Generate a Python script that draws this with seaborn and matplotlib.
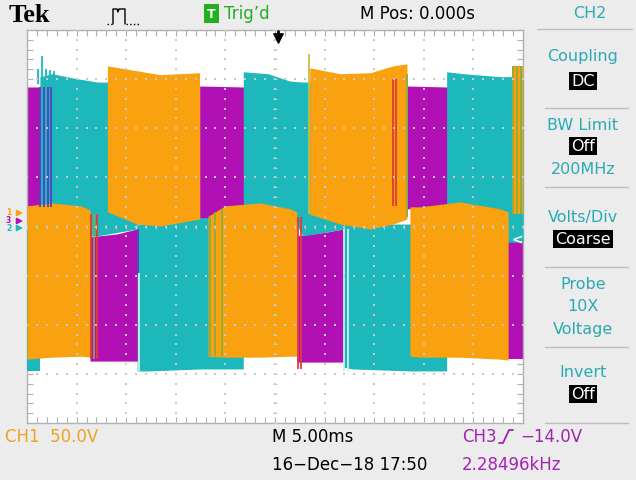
import matplotlib
matplotlib.use("Agg")
import numpy as np
import matplotlib.pyplot as plt
import seaborn as sns

# ============================================
# DATA  (time in ms, 5 ms/div, trigger at 0; level in divisions)
# ============================================

# CH3 - magenta
CH3_T = [
    [-25.0, -17.9],
    [-18.65, -15.9, -13.9, -7.6],
    [-7.6, -3.2, 2.8],
    [2.2, 5.0, 6.9, 13.3],
    [13.3, 17.3, 23.5],
    [23.5, 25.0],
]
CH3_TOP = [
    [2.84, 2.84],
    [-0.21, -0.15, -0.05, -0.05],
    [2.86, 2.84, 2.84],
    [-0.19, -0.12, -0.05, -0.05],
    [2.86, 2.84, 2.84],
    [-0.32, -0.32],
]
CH3_BOT = [
    [0.40, 0.36],
    [-2.74, -2.74, -2.74, -2.74],
    [0.15, 0.15, 0.15],
    [-2.76, -2.76, -2.76, -2.76],
    [0.36, 0.36, 0.36],
    [-2.70, -2.70],
]

# CH2 - cyan
CH2_T = [
    [-25.0, -23.7],
    [-23.7, -22.5, -20.0, -17.9, -15.9, -13.9],
    [-13.9, -12.6, -7.6, -3.2],
    [-3.2, -0.7, 1.5, 2.8, 5.0, 6.9],
    [6.9, 7.8, 13.6, 17.3],
    [17.3, 19.0, 22.7, 25.0],
]
CH2_TOP = [
    [-0.05, -0.05],
    [3.05, 3.11, 3.01, 2.94, 2.94, 2.94],
    [0.05, 0.05, 0.18, 0.18],
    [3.15, 3.11, 2.96, 2.94, 2.94, 2.94],
    [0.05, 0.05, 0.05, 0.05],
    [3.15, 3.11, 3.05, 3.05],
]
CH2_BOT = [
    [-2.94, -2.94],
    [-0.19, -0.19, -0.19, -0.19, -0.12, -0.05],
    [-2.94, -2.94, -2.90, -2.90],
    [0.30, 0.30, 0.30, -0.19, -0.12, -0.05],
    [-2.86, -2.90, -2.94, -2.94],
    [-0.32, -0.32, -0.32, -0.32],
]

# CH1 - orange
CH1_T = [
    [-25.0, -22.5, -19.6, -18.65],
    [-16.9, -13.9, -11.6, -7.6],
    [-6.75, -5.04, -1.5, 1.5, 2.2],
    [3.5, 6.55, 9.6, 11.9, 13.3],
    [13.6, 14.6, 18.65, 22.7, 23.5],
    [23.9, 25.0],
]
CH1_TOP = [
    [0.42, 0.48, 0.42, 0.34],
    [3.27, 3.17, 3.09, 3.13],
    [0.21, 0.42, 0.48, 0.36, 0.30],
    [3.23, 3.11, 3.13, 3.27, 3.31],
    [0.40, 0.40, 0.50, 0.36, 0.30],
    [3.27, 3.27],
]
CH1_BOT = [
    [-2.70, -2.66, -2.64, -2.66],
    [0.30, 0.05, 0.01, 0.15],
    [-2.64, -2.66, -2.66, -2.64, -2.64],
    [0.25, 0.05, -0.05, 0.05, 0.15],
    [-2.64, -2.66, -2.66, -2.70, -2.72],
    [0.25, 0.25],
]

# switching edges seen as thin lines
EDGE_T = [-23.9, -23.5, -23.1, -22.7, -22.3,
          -23.69, -23.29, -22.88, -22.58,
          -18.55, -18.25, -17.95,
          -13.8, -13.7,
          -6.6, -6.0, -5.3,
          2.3, 2.6, 3.43,
          6.95, 7.4,
          11.9, 12.2, 13.3,
          24.0, 24.4, 24.8]
EDGE_TOP = [3.21, 3.47, 3.21, 3.19, 3.17,
            2.84, 2.84, 2.84, 2.84,
            0.25, 0.25, 0.25,
            -0.05, -0.95,
            0.21, 0.30, 0.36,
            0.20, 0.20, 3.51,
            -0.05, -0.05,
            3.01, 3.01, 3.10,
            3.27, 3.27, 3.27]
EDGE_BOT = [2.90, 2.90, 2.90, 2.90, 2.90,
            0.40, 0.40, 0.40, 0.40,
            -2.70, -2.70, -2.70,
            -0.95, -2.94,
            -2.64, -2.64, -2.64,
            -2.90, -2.90, 0.25,
            -2.94, -2.94,
            0.41, 0.41, 0.20,
            0.25, 0.25, 0.25]
EDGE_COLOR = ["c"] * 5 + ["b"] * 4 + ["r", "g", "r"] + ["b", "w"] + ["g"] * 3 + \
             ["r", "r", "y"] + ["w", "w"] + ["r", "r", "g"] + ["g"] * 3

# ============================================
# STYLE
# ============================================

W, H = 636, 481
BG = "#ececec"
ORANGE = "#f9a10e"
CYAN = "#1cb8bc"
MAGENTA = "#b010b4"
TXT_CYAN = "#2aaab4"
TXT_ORANGE = "#eea21e"
TXT_MAGENTA = "#a422b4"
EDGE_COLORS = {"c": CYAN, "b": "#5a3cc0", "r": "#e03c3c", "g": "#8cab3c",
               "w": "#c8f0f0", "y": "#c8c040"}

sns.set_theme(style="white")
plt.rcParams["font.family"] = ["DejaVu Sans"]

fig = plt.figure(figsize=(W / 100, H / 100), dpi=100, facecolor=BG)

# graticule area in pixels: x 27..523, y 31..424
ax = fig.add_axes([27 / W, 1 - 424 / H, 496 / W, 393 / H])
ax.set_facecolor("white")
ax.set_xlim(-25, 25)
ax.set_ylim(-4, 4)

for ts, tops, bots, col, z in [(CH3_T, CH3_TOP, CH3_BOT, MAGENTA, 2),
                               (CH2_T, CH2_TOP, CH2_BOT, CYAN, 3),
                               (CH1_T, CH1_TOP, CH1_BOT, ORANGE, 4)]:
    for t, top, bot in zip(ts, tops, bots):
        ax.fill_between(t, bot, top, color=col, lw=0, zorder=z)

ax.vlines(EDGE_T, EDGE_BOT, EDGE_TOP,
          colors=[EDGE_COLORS[c] for c in EDGE_COLOR], lw=1.3, zorder=5)

# dotted graticule
dot = "#c8c8c8"
ys = np.arange(-4, 4.01, 0.2)
xs = np.arange(-25, 25.01, 1)
for k in range(-20, 21, 5):
    ax.scatter(np.full_like(ys, k), ys, s=1.2, marker="s", color=dot, lw=0, zorder=8)
for v in range(-3, 4):
    ax.scatter(xs, np.full_like(xs, v), s=1.2, marker="s", color=dot, lw=0, zorder=8)
ax.scatter(xs, np.zeros_like(xs), s=7, marker="|", color=dot, lw=0.7, zorder=8)
ax.scatter(np.zeros_like(ys), ys, s=7, marker="_", color=dot, lw=0.7, zorder=8)

ax.set_xticks(np.arange(-24, 25, 1))
ax.set_yticks(np.arange(-3.8, 3.81, 0.2))
ax.tick_params(axis="both", direction="in", length=4, width=0.8, color="#b0b0b0",
               top=True, bottom=True, left=True, right=True,
               labelbottom=False, labelleft=False)
for s in ax.spines.values():
    s.set_color("#b0b0b0")
    s.set_linewidth(1)

# ============================================
# SCREEN DECORATIONS (pixel coordinates)
# ============================================

ov = fig.add_axes([0, 0, 1, 1])
ov.set_xlim(0, W)
ov.set_ylim(H, 0)
ov.axis("off")

ov.text(9, 15, "Tek", fontsize=19, fontweight="bold", family="Liberation Serif",
        va="center", ha="left", color="black")
ov.plot([107, 113], [25, 25], color="black", lw=1, ls=":")
ov.plot([113, 113, 117, 118, 119, 125, 125], [25, 10, 10, 13, 10, 10, 25], color="black", lw=1)
ov.plot([126, 140], [25, 25], color="black", lw=1, ls=":")
ov.text(211.5, 14.5, "T", fontsize=9, fontweight="bold", color="white", ha="center", va="center",
        bbox=dict(facecolor="#22b022", edgecolor="none", boxstyle="square,pad=0.25"))
ov.text(224, 14, "Trig\u2019d", fontsize=12, color="#22b022", ha="left", va="center")
ov.text(418, 14, "M Pos: 0.000s", fontsize=12, color="black", ha="center", va="center")

# trigger position arrow
ov.plot([278, 278], [32, 37], color="black", lw=2)
ov.scatter([278], [39], marker="v", s=45, color="black", zorder=9)

# channel ground markers (stacked at the left edge)
ov.text(6, 213, "1", fontsize=5.5, color=ORANGE, ha="left", va="center", fontweight="bold")
ov.text(6, 221, "3", fontsize=5.5, color=MAGENTA, ha="left", va="center", fontweight="bold")
ov.text(6, 229, "2", fontsize=5.5, color=CYAN, ha="left", va="center", fontweight="bold")
ov.scatter([19, 19, 19], [214, 222, 229], marker=">", s=14,
           color=[ORANGE, MAGENTA, CYAN], zorder=9)
# trigger level marker
ov.text(517, 240, "<", fontsize=10, fontweight="bold", color="white", ha="center", va="center")

# right menu
menu = [("CH2", 14, False), ("Coupling", 57, False), ("DC", 82, True),
        ("BW Limit", 125, False), ("Off", 147, True), ("200MHz", 170, False),
        ("Volts/Div", 218, False), ("Coarse", 240, True),
        ("Probe", 285, False), ("10X", 307, False), ("Voltage", 330, False),
        ("Invert", 373, False), ("Off", 395, True)]
for label, y, boxed in menu:
    xc = 590 if label == "CH2" else 583
    if boxed:
        ov.text(xc, y, label, fontsize=11.5, color="white", ha="center", va="center",
                bbox=dict(facecolor="black", edgecolor="none", boxstyle="square,pad=0.12"))
    else:
        ov.text(xc, y, label, fontsize=11.5, color=TXT_CYAN, ha="center", va="center")
ov.plot([537, 632], [30, 30], color="#bdbdbd", lw=1)
for y in [109, 188, 268, 348, 424]:
    ov.plot([545, 628], [y, y], color="#bdbdbd", lw=1)

# bottom readouts
ov.text(5, 437, "CH1  50.0V", fontsize=12, color=TXT_ORANGE, ha="left", va="center")
ov.text(272, 437, "M 5.00ms", fontsize=12, color="black", ha="left", va="center")
ov.text(272, 465, "16\u2212Dec\u221218 17:50", fontsize=12, color="black", ha="left", va="center")
ov.text(462, 437, "CH3", fontsize=12, color=TXT_MAGENTA, ha="left", va="center")
ov.plot([499, 503, 509, 513], [444, 444, 431, 431], color=TXT_MAGENTA, lw=1.3)
ov.text(520, 437, "\u221214.0V", fontsize=12, color=TXT_MAGENTA, ha="left", va="center")
ov.text(462, 465, "2.28496kHz", fontsize=12, color=TXT_MAGENTA, ha="left", va="center")

fig.savefig("out.png", dpi=100, facecolor=BG)
